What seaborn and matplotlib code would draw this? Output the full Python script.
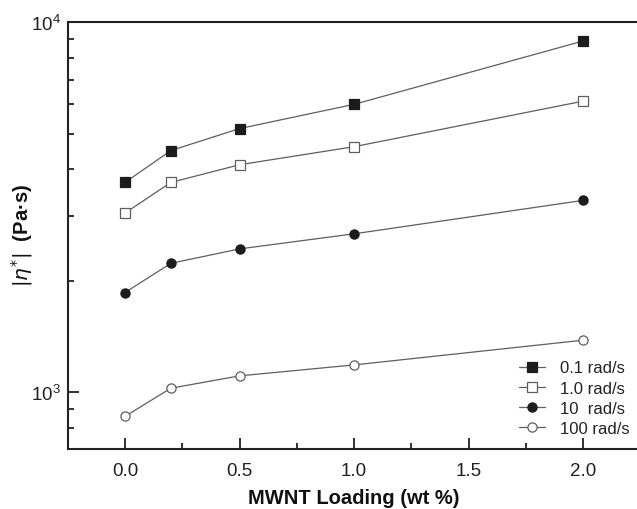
import numpy as np
import pandas as pd
import matplotlib
matplotlib.use("Agg")
import matplotlib.pyplot as plt
from matplotlib.ticker import MultipleLocator, LogLocator, NullFormatter
import seaborn as sns

# MWNT loading (wt %)
loading = [0.0, 0.2, 0.5, 1.0, 2.0]

# complex viscosity |eta*| (Pa·s) at each angular frequency
eta_01 = [3690, 4500, 5160, 6000, 8900]
eta_1 = [3050, 3690, 4120, 4610, 6120]
eta_10 = [1860, 2230, 2440, 2680, 3300]
eta_100 = [860, 1025, 1107, 1185, 1382]

labels = ["0.1 rad/s", "1.0 rad/s", "10  rad/s", "100 rad/s"]

df = pd.DataFrame({
    "loading": loading * 4,
    "eta": eta_01 + eta_1 + eta_10 + eta_100,
    "freq": [lab for lab in labels for _ in loading],
})

sns.set_style("ticks")
plt.rcParams["font.family"] = ["Liberation Sans", "DejaVu Sans"]
plt.rcParams["mathtext.fontset"] = "dejavusans"

fig = plt.figure(figsize=(6.37, 5.10), dpi=100)
ax = fig.add_axes([0.1064, 0.1167, 0.8987, 0.8376])

line_c = "#5e5e5e"
dark = "#1c1c1c"
styles = {
    "0.1 rad/s": dict(marker="s", markerfacecolor=dark, markeredgecolor=dark),
    "1.0 rad/s": dict(marker="s", markerfacecolor="white", markeredgecolor=line_c),
    "10  rad/s": dict(marker="o", markerfacecolor=dark, markeredgecolor=dark),
    "100 rad/s": dict(marker="o", markerfacecolor="white", markeredgecolor=line_c),
}

for lab in labels:
    sub = df[df["freq"] == lab]
    sns.lineplot(data=sub, x="loading", y="eta", ax=ax, color=line_c,
                 linewidth=0.9, markersize=6.6, markeredgewidth=0.9,
                 label=lab, **styles[lab])

ax.set_yscale("log")
ax.set_xlim(-0.25, 2.25)
ax.set_ylim(700, 10000)

ax.set_xticks([0.0, 0.5, 1.0, 1.5, 2.0])
ax.set_xticklabels(["0.0", "0.5", "1.0", "1.5", "2.0"])
ax.xaxis.set_minor_locator(MultipleLocator(0.25))
ax.yaxis.set_major_locator(LogLocator(base=10, numticks=10))
ax.yaxis.set_minor_locator(LogLocator(base=10, subs=np.arange(2, 10), numticks=20))
ax.yaxis.set_minor_formatter(NullFormatter())

ax.tick_params(which="both", direction="in", width=1.3, color="#222222",
               labelsize=13.5, labelcolor="#222222")
ax.tick_params(which="major", length=8)
ax.tick_params(which="minor", length=4.5)
ax.tick_params(axis="x", which="major", pad=9)
ax.tick_params(axis="y", which="major", pad=5)
ax.tick_params(axis="y", which="both", right=False)
ax.tick_params(axis="x", which="both", top=False)

for side in ["left", "bottom", "top", "right"]:
    ax.spines[side].set_linewidth(1.5)
    ax.spines[side].set_color("#222222")

ax.set_xlabel("MWNT Loading (wt %)", fontsize=14.5, fontweight="bold",
              color="#111111")
ax.set_ylabel(r"$|\eta^{*}|$  (Pa·s)", fontsize=14.5, fontweight="bold",
              color="#111111")
ax.xaxis.set_label_coords(0.5, -0.09)
ax.yaxis.set_label_coords(-0.057, 0.504)

leg = ax.legend(loc="lower right", bbox_to_anchor=(0.9938, 0.016), frameon=False,
                fontsize=12, handlelength=1.56, handletextpad=0.95,
                labelspacing=0.31, borderaxespad=0)
for t in leg.get_texts():
    t.set_color("#222222")

fig.savefig("out.png", dpi=100)
